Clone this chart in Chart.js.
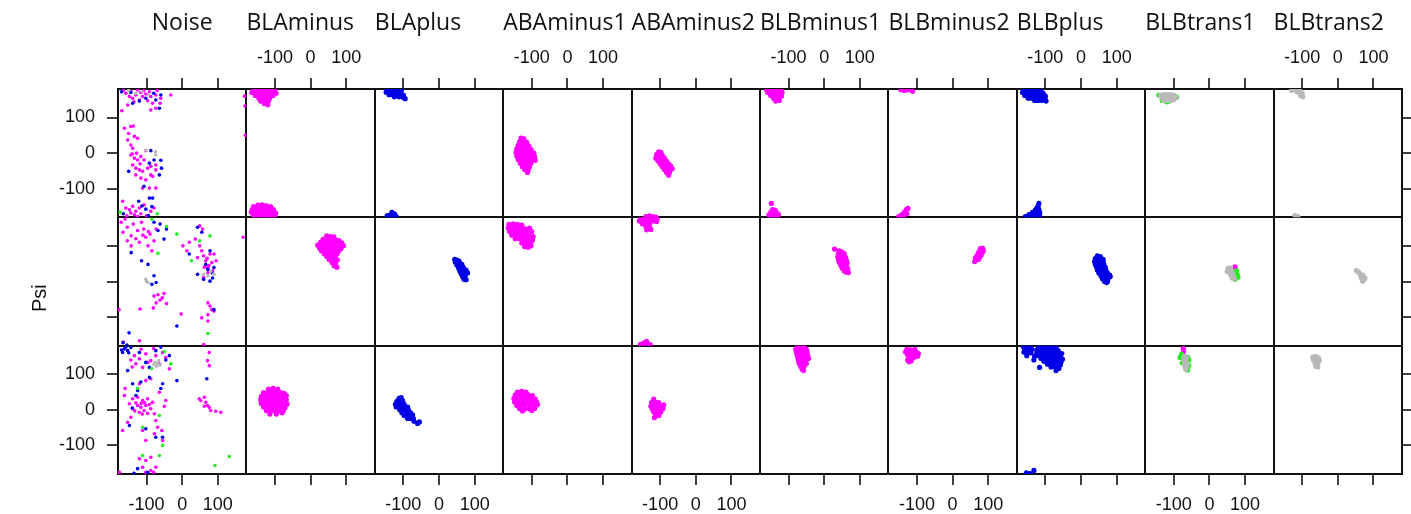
<!DOCTYPE html>
<html>
<head>
<meta charset="utf-8">
<script src="https://cdn.jsdelivr.net/npm/chart.js@4.4.1/dist/chart.umd.min.js"></script>
<style>
  html, body { margin: 0; background: #fff; }
  #wrap { width: 1411px; height: 514px; }
</style>
</head>
<body>
<div id="wrap"><canvas id="chart" width="1411" height="514"></canvas></div>
<script>
// panel names, one per column
const columns = ['Noise', 'BLAminus', 'BLAplus', 'ABAminus1', 'ABAminus2', 'BLBminus1', 'BLBminus2', 'BLBplus', 'BLBtrans1', 'BLBtrans2']
const rowCount = 3
const tickValues = [-180, -100, 0, 100, 180]
// point groups: M magenta, B blue, G green, K grey
const groupKeys = ['K', 'G', 'B', 'M']

// each point: [row, group, phi, psi]
const noisePts = [
  // row 0
  [0,'M',-158,168],[0,'M',-144,173],[0,'M',-130,163],[0,'M',-116,170],[0,'M',-102,166],[0,'M',-88,159],[0,'M',-74,163],[0,'M',-60,154],
  [0,'M',-139,154],[0,'M',-120,149],[0,'M',-97,147],[0,'M',-83,140],[0,'M',-88,121],[0,'M',-74,126],[0,'M',-153,135],[0,'M',-169,119],
  [0,'M',-32,163],[0,'M',-111,159],[0,'M',-125,177],[0,'M',-148,159],[0,'M',-165,176],[0,'M',-108,175],[0,'M',-92,172],[0,'M',-70,176],
  [0,'M',-135,144],[0,'M',-62,140],[0,'M',175,160],[0,'M',176,132],[0,'M',177,50],
  [0,'B',-139,140],[0,'B',-120,146],[0,'B',-74,149],[0,'B',-64,126],[0,'B',-60,163],[0,'B',-102,154],[0,'B',-144,170],[0,'B',-170,172],[0,'B',-80,168],
  [0,'K',-130,168],[0,'K',-112,172],[0,'K',-150,176],[0,'K',-95,164],
  [0,'M',-162,70],[0,'M',-144,75],[0,'M',-137,76],[0,'M',-153,37],[0,'M',-144,23],[0,'M',-134,47],[0,'M',-125,42],[0,'M',-139,14],
  [0,'M',-144,-5],[0,'M',-134,-14],[0,'M',-125,-19],[0,'M',-116,-9],[0,'M',-107,-19],[0,'M',-139,-33],[0,'M',-130,-42],[0,'M',-120,-47],
  [0,'M',-111,-51],[0,'M',-97,-42],[0,'M',-88,-37],[0,'M',-130,-61],[0,'M',-116,-70],[0,'M',-102,-75],[0,'M',-83,-65],[0,'M',-74,-47],
  [0,'M',-74,-98],[0,'M',-111,-98],[0,'M',-92,-98],[0,'M',-102,7],[0,'M',-74,-33],[0,'M',-88,-61],[0,'M',-140,-2],[0,'M',-128,0],
  [0,'M',-118,-30],[0,'M',-150,55],
  [0,'B',-88,7],[0,'B',-92,-28],[0,'B',-58,-42],[0,'B',-64,-61],[0,'B',-150,-51],[0,'B',-107,-93],[0,'B',-92,-126],[0,'B',-83,-126],[0,'B',-79,-19],[0,'B',-60,-20],
  [0,'K',-74,-5],[0,'K',-75,4],[0,'K',-102,8],
  [0,'M',-167,-135],[0,'M',-158,-154],[0,'M',-148,-159],[0,'M',-139,-149],[0,'M',-130,-163],[0,'M',-144,-168],[0,'M',-120,-154],[0,'M',-107,-145],
  [0,'M',-88,-163],[0,'M',-134,-173],[0,'M',-116,-170],[0,'M',-79,-154],[0,'M',-155,-176],[0,'M',-100,-176],[0,'M',-125,-178],
  [0,'B',-122,-135],[0,'B',-102,-157],[0,'B',-85,-150],[0,'B',-165,-170],[0,'B',-113,-148],[0,'B',-95,-175],
  [0,'G',-174,-166],[0,'G',-70,-170],
  // row 1
  [1,'M',-171,166],[1,'M',-154,152],[1,'M',-137,161],[1,'M',-166,138],[1,'M',-143,128],[1,'M',-125,143],[1,'M',-108,147],[1,'M',-102,124],
  [1,'M',-90,133],[1,'M',-79,114],[1,'M',-120,110],[1,'M',-143,100],[1,'M',-154,114],[1,'M',-73,147],[1,'M',-96,100],[1,'M',-85,86],
  [1,'M',-114,166],[1,'M',-130,120],[1,'M',-160,175],[1,'M',-110,130],[1,'M',-95,140],
  [1,'B',-79,166],[1,'B',-62,161],[1,'B',-51,119],[1,'B',-68,143],[1,'B',-44,147],[1,'B',-143,81],[1,'B',-114,58],[1,'B',-96,48],
  [1,'B',-79,16],[1,'B',-73,-3],[1,'B',-85,-8],
  [1,'G',-44,154],[1,'G',-85,175],[1,'G',-68,79],[1,'G',-15,133],
  [1,'K',-102,6],[1,'K',-96,-3],[1,'K',-100,0],
  [1,'M',2,100],[1,'M',20,110],[1,'M',13,86],[1,'M',37,119],[1,'M',49,100],[1,'M',55,86],[1,'M',60,72],[1,'M',66,58],
  [1,'M',43,67],[1,'M',72,39],[1,'M',78,77],[1,'M',89,77],[1,'M',83,53],[1,'M',57,147],[1,'M',49,156],[1,'M',72,25],
  [1,'M',60,11],[1,'M',95,58],[1,'M',70,65],[1,'M',75,45],[1,'M',62,40],[1,'M',85,30],[1,'M',171,124],
  [1,'B',43,152],[1,'B',55,138],[1,'B',78,86],[1,'B',66,48],[1,'B',72,34],[1,'B',83,25],[1,'B',43,20],[1,'B',78,1],
  [1,'B',60,6],[1,'B',89,39],[1,'B',20,77],[1,'B',85,10],
  [1,'K',60,20],[1,'K',72,16],[1,'K',89,20],[1,'K',80,28],
  [1,'G',26,58],[1,'G',49,114],[1,'G',78,128],
  [1,'M',-79,-41],[1,'M',-68,-37],[1,'M',-56,-46],[1,'M',-51,-34],[1,'M',-73,-60],[1,'M',-62,-52],[1,'M',-44,-62],[1,'M',-81,-74],
  [1,'M',-118,-77],[1,'M',-177,-79],[1,'M',72,-60],[1,'M',78,-69],[1,'M',83,-79],[1,'M',72,-93],[1,'M',55,-102],[1,'M',89,-83],
  [1,'M',72,-111],[1,'M',-3,-91],[1,'M',60,-177],[1,'M',-120,-166],[1,'M',-165,-170],
  [1,'B',89,-79],[1,'B',-15,-125],[1,'B',-149,-144],[1,'B',-166,-172],[1,'B',-155,-178],
  [1,'G',72,-146],
  // row 2
  [2,'B',-162,171],[2,'B',-153,166],[2,'B',-167,161],[2,'B',-144,175],[2,'B',-158,176],[2,'B',-170,168],[2,'B',-150,160],
  [2,'M',-134,152],[2,'M',-120,143],[2,'M',-102,157],[2,'M',-88,138],[2,'M',-74,152],[2,'M',-55,161],[2,'M',-46,147],[2,'M',-130,129],
  [2,'M',-111,119],[2,'M',-97,133],[2,'M',-144,140],[2,'M',-64,129],[2,'M',-36,115],[2,'M',-115,170],[2,'M',-80,172],[2,'M',-140,120],
  [2,'B',-120,161],[2,'B',-102,133],[2,'B',-74,166],[2,'B',-36,152],[2,'B',-153,110],[2,'B',-92,119],[2,'B',-46,140],[2,'B',-60,176],
  [2,'K',-69,129],[2,'K',-76,133],[2,'K',-62,126],[2,'K',-72,122],[2,'K',-66,138],[2,'K',-80,127],
  [2,'G',-32,129],[2,'G',-50,163],[2,'G',-86,116],
  [2,'M',-139,31],[2,'M',-125,35],[2,'M',-111,26],[2,'M',-97,31],[2,'M',-83,21],[2,'M',-125,12],[2,'M',-116,7],[2,'M',-102,12],
  [2,'M',-88,3],[2,'M',-120,-7],[2,'M',-107,-2],[2,'M',-139,3],[2,'M',-148,17],[2,'M',-78,-11],[2,'M',-97,-10],[2,'M',-130,20],
  [2,'M',-115,18],[2,'M',-105,20],[2,'M',-92,15],[2,'M',-133,-3],[2,'M',-112,-12],
  [2,'M',-162,40],[2,'M',-153,-35],[2,'M',-144,-21],[2,'M',-74,-30],[2,'M',-69,-49],[2,'M',-57,-58],[2,'M',-78,-67],[2,'M',-55,-86],
  [2,'M',-102,-86],[2,'M',-111,-58],[2,'M',-46,26],[2,'M',-50,10],[2,'M',-64,49],[2,'M',-88,87],[2,'M',-102,82],[2,'M',-120,73],
  [2,'M',-167,-58],[2,'M',-160,60],
  [2,'B',-139,73],[2,'B',-116,78],[2,'B',-92,91],[2,'B',-55,73],[2,'B',-60,60],[2,'B',-140,5],[2,'B',-148,-44],[2,'B',-102,-53],
  [2,'B',-74,-77],[2,'B',-55,-77],[2,'B',-130,40],[2,'B',-125,54],[2,'B',-15,82],[2,'B',69,87],
  [2,'G',-125,60],[2,'G',-111,-49],[2,'G',-55,-100],[2,'G',-64,-16],
  [2,'M',-120,-137],[2,'M',-102,-142],[2,'M',-88,-133],[2,'M',-74,-161],[2,'M',-111,-161],[2,'M',-102,-175],[2,'M',-88,-170],[2,'M',-80,-175],[2,'M',-176,-175],
  [2,'B',-125,-165],[2,'B',-97,-175],[2,'B',-135,-178],
  [2,'G',-111,-128],[2,'G',-64,-128],[2,'G',132,-131],[2,'G',92,-156],
  [2,'M',52,26],[2,'M',62,35],[2,'M',66,21],[2,'M',71,12],[2,'M',76,7],[2,'M',62,10],[2,'M',80,-2],[2,'M',94,-4],
  [2,'M',108,-7],[2,'M',48,31],[2,'M',76,161],[2,'M',71,138],[2,'M',76,124]
]

const blaMinusPts = [
  [0,'M',-160,178],[0,'M',-150,178],[0,'M',-140,178],[0,'M',-130,178],[0,'M',-120,178],[0,'M',-110,178],[0,'M',-100,176],
  [0,'M',-165,170],[0,'M',-155,170],[0,'M',-145,170],[0,'M',-135,170],[0,'M',-125,170],[0,'M',-115,170],[0,'M',-105,170],[0,'M',-97,168],
  [0,'M',-155,162],[0,'M',-145,162],[0,'M',-135,162],[0,'M',-125,162],[0,'M',-115,162],[0,'M',-105,162],
  [0,'M',-145,154],[0,'M',-135,154],[0,'M',-125,154],[0,'M',-115,154],[0,'M',-140,146],[0,'M',-128,146],[0,'M',-118,146],[0,'M',-130,139],[0,'M',-120,136],
  [0,'M',-160,-150],[0,'M',-148,-146],[0,'M',-136,-145],[0,'M',-124,-147],[0,'M',-112,-150],
  [0,'M',-164,-158],[0,'M',-152,-156],[0,'M',-140,-155],[0,'M',-128,-155],[0,'M',-116,-156],[0,'M',-104,-158],
  [0,'M',-166,-166],[0,'M',-154,-165],[0,'M',-142,-164],[0,'M',-130,-164],[0,'M',-118,-165],[0,'M',-106,-166],[0,'M',-98,-168],
  [0,'M',-160,-174],[0,'M',-148,-174],[0,'M',-136,-173],[0,'M',-124,-174],[0,'M',-112,-174],[0,'M',-100,-176],
  [0,'M',-155,-179],[0,'M',-135,-179],[0,'M',-115,-179],
  [1,'M',45,128],[1,'M',55,126],[1,'M',65,125],[1,'M',35,118],[1,'M',47,118],[1,'M',58,118],[1,'M',70,117],[1,'M',80,115],
  [1,'M',28,110],[1,'M',40,110],[1,'M',52,110],[1,'M',64,110],[1,'M',76,108],[1,'M',88,108],
  [1,'M',20,102],[1,'M',32,102],[1,'M',44,102],[1,'M',56,102],[1,'M',68,102],[1,'M',80,100],[1,'M',92,100],
  [1,'M',25,94],[1,'M',37,94],[1,'M',49,94],[1,'M',61,94],[1,'M',73,94],[1,'M',85,92],
  [1,'M',30,86],[1,'M',42,86],[1,'M',54,86],[1,'M',66,86],[1,'M',78,85],[1,'M',38,78],[1,'M',50,78],[1,'M',62,78],[1,'M',74,77],
  [1,'M',45,70],[1,'M',57,70],[1,'M',69,69],[1,'M',52,62],[1,'M',64,61],[1,'M',75,60],[1,'M',60,53],[1,'M',70,50],[1,'M',66,44],[1,'M',74,40],
  [2,'M',-118,58],[2,'M',-105,60],[2,'M',-92,58],
  [2,'M',-132,48],[2,'M',-120,48],[2,'M',-108,48],[2,'M',-96,48],[2,'M',-84,48],[2,'M',-74,46],
  [2,'M',-138,38],[2,'M',-126,38],[2,'M',-114,38],[2,'M',-102,38],[2,'M',-90,38],[2,'M',-78,38],[2,'M',-68,40],
  [2,'M',-140,28],[2,'M',-128,28],[2,'M',-116,28],[2,'M',-104,28],[2,'M',-92,28],[2,'M',-80,28],[2,'M',-68,28],
  [2,'M',-138,18],[2,'M',-126,18],[2,'M',-114,18],[2,'M',-102,18],[2,'M',-90,18],[2,'M',-78,18],[2,'M',-66,16],
  [2,'M',-132,8],[2,'M',-120,8],[2,'M',-108,8],[2,'M',-96,8],[2,'M',-84,8],[2,'M',-72,6],
  [2,'M',-124,-2],[2,'M',-112,-3],[2,'M',-100,-2],[2,'M',-88,-4],[2,'M',-76,-2],[2,'M',-114,-12],[2,'M',-96,-12],[2,'M',-80,-8]
]

const blaPlusPts = [
  [0,'B',-145,178],[0,'B',-135,178],[0,'B',-125,178],[0,'B',-115,178],[0,'B',-105,177],
  [0,'B',-148,171],[0,'B',-138,171],[0,'B',-128,171],[0,'B',-118,171],[0,'B',-108,171],
  [0,'B',-140,164],[0,'B',-130,164],[0,'B',-120,164],[0,'B',-110,164],[0,'B',-100,163],[0,'B',-125,158],[0,'B',-112,158],[0,'B',-100,156],[0,'B',-95,153],
  [0,'B',-145,-175],[0,'B',-135,-172],[0,'B',-125,-170],[0,'B',-140,-178],[0,'B',-130,-178],[0,'B',-120,-177],[0,'B',-132,-166],
  [1,'B',44,62],[1,'B',50,60],[1,'B',56,57],[1,'B',46,54],[1,'B',52,52],[1,'B',58,50],[1,'B',64,48],[1,'B',50,46],[1,'B',56,44],
  [1,'B',62,42],[1,'B',68,40],[1,'B',55,38],[1,'B',61,36],[1,'B',67,34],[1,'B',58,30],[1,'B',64,28],[1,'B',70,26],[1,'B',76,32],
  [1,'B',62,22],[1,'B',68,20],[1,'B',74,18],[1,'B',66,14],[1,'B',72,12],[1,'B',70,6],[1,'B',76,5],[1,'B',80,24],
  [2,'B',-112,32],[2,'B',-106,34],[2,'B',-118,24],[2,'B',-110,24],[2,'B',-102,26],[2,'B',-122,16],[2,'B',-114,16],[2,'B',-106,16],
  [2,'B',-98,16],[2,'B',-120,8],[2,'B',-112,8],[2,'B',-104,8],[2,'B',-96,8],[2,'B',-88,8],[2,'B',-110,0],[2,'B',-102,0],
  [2,'B',-94,0],[2,'B',-86,0],[2,'B',-104,-8],[2,'B',-96,-8],[2,'B',-88,-8],[2,'B',-80,-8],[2,'B',-98,-16],[2,'B',-90,-16],
  [2,'B',-82,-16],[2,'B',-74,-14],[2,'B',-88,-24],[2,'B',-80,-24],[2,'B',-72,-24],[2,'B',-70,-32],[2,'B',-60,-38],[2,'B',-55,-34]
]

const abaMinus1Pts = [
  [0,'M',-130,42],[0,'M',-122,40],[0,'M',-134,32],[0,'M',-124,32],[0,'M',-114,30],[0,'M',-138,22],[0,'M',-128,22],[0,'M',-118,22],
  [0,'M',-108,20],[0,'M',-142,12],[0,'M',-132,12],[0,'M',-122,12],[0,'M',-112,12],[0,'M',-102,10],[0,'M',-144,2],[0,'M',-134,2],
  [0,'M',-124,2],[0,'M',-114,2],[0,'M',-104,2],[0,'M',-94,0],[0,'M',-142,-8],[0,'M',-132,-8],[0,'M',-122,-8],[0,'M',-112,-8],
  [0,'M',-102,-8],[0,'M',-92,-10],[0,'M',-138,-18],[0,'M',-128,-18],[0,'M',-118,-18],[0,'M',-108,-18],[0,'M',-98,-18],[0,'M',-90,-20],
  [0,'M',-132,-28],[0,'M',-122,-28],[0,'M',-112,-28],[0,'M',-102,-28],[0,'M',-126,-38],[0,'M',-116,-38],[0,'M',-106,-38],
  [0,'M',-120,-46],[0,'M',-110,-48],[0,'M',-112,-54],
  [1,'M',-164,160],[1,'M',-152,162],[1,'M',-140,160],[1,'M',-128,158],[1,'M',-166,150],[1,'M',-154,150],[1,'M',-142,150],[1,'M',-130,150],
  [1,'M',-118,148],[1,'M',-106,150],[1,'M',-162,140],[1,'M',-150,140],[1,'M',-138,140],[1,'M',-126,140],[1,'M',-114,138],[1,'M',-100,140],
  [1,'M',-156,130],[1,'M',-144,130],[1,'M',-132,130],[1,'M',-120,128],[1,'M',-108,128],[1,'M',-96,126],[1,'M',-146,120],[1,'M',-134,120],
  [1,'M',-122,118],[1,'M',-110,118],[1,'M',-98,116],[1,'M',-128,108],[1,'M',-116,108],[1,'M',-104,106],[1,'M',-120,98],[1,'M',-110,96],[1,'M',-102,100],
  [2,'M',-140,50],[2,'M',-128,52],[2,'M',-116,50],[2,'M',-146,42],[2,'M',-134,42],[2,'M',-122,42],[2,'M',-110,42],[2,'M',-98,40],
  [2,'M',-150,32],[2,'M',-138,32],[2,'M',-126,32],[2,'M',-114,32],[2,'M',-102,32],[2,'M',-90,30],[2,'M',-148,22],[2,'M',-136,22],
  [2,'M',-124,22],[2,'M',-112,22],[2,'M',-100,22],[2,'M',-86,22],[2,'M',-142,12],[2,'M',-130,12],[2,'M',-118,12],[2,'M',-106,12],
  [2,'M',-94,12],[2,'M',-84,14],[2,'M',-134,3],[2,'M',-120,2],[2,'M',-106,2],[2,'M',-92,4],[2,'M',-126,-3],[2,'M',-100,-2]
]

const abaMinus2Pts = [
  [0,'M',-104,4],[0,'M',-98,2],[0,'M',-110,-4],[0,'M',-102,-6],[0,'M',-94,-6],[0,'M',-112,-14],[0,'M',-104,-14],[0,'M',-96,-14],
  [0,'M',-88,-14],[0,'M',-106,-22],[0,'M',-98,-22],[0,'M',-90,-22],[0,'M',-82,-22],[0,'M',-100,-30],[0,'M',-92,-30],[0,'M',-84,-30],
  [0,'M',-76,-30],[0,'M',-94,-38],[0,'M',-86,-38],[0,'M',-78,-38],[0,'M',-70,-36],[0,'M',-88,-46],[0,'M',-80,-46],[0,'M',-72,-46],
  [0,'M',-66,-44],[0,'M',-82,-54],[0,'M',-74,-54],[0,'M',-76,-62],
  [0,'M',-140,-178],[0,'M',-130,-176],[0,'M',-120,-178],[0,'M',-112,-179],
  [1,'M',-155,178],[1,'M',-145,178],[1,'M',-135,178],[1,'M',-125,178],[1,'M',-115,178],[1,'M',-108,177],[1,'M',-158,170],[1,'M',-148,170],
  [1,'M',-138,170],[1,'M',-128,170],[1,'M',-118,170],[1,'M',-110,168],[1,'M',-150,162],[1,'M',-140,162],[1,'M',-130,162],
  [1,'M',-140,154],[1,'M',-130,152],[1,'M',-138,145],[1,'M',-126,146],
  [1,'M',-155,-176],[1,'M',-145,-172],[1,'M',-138,-168],[1,'M',-150,-179],[1,'M',-135,-179],[1,'M',-128,-177],
  [2,'M',-118,30],[2,'M',-124,20],[2,'M',-114,22],[2,'M',-104,20],[2,'M',-126,10],[2,'M',-116,12],[2,'M',-106,12],[2,'M',-96,10],
  [2,'M',-122,2],[2,'M',-112,2],[2,'M',-102,2],[2,'M',-92,4],[2,'M',-118,-6],[2,'M',-108,-6],[2,'M',-98,-6],[2,'M',-112,-14],
  [2,'M',-104,-16],[2,'M',-116,-22],[2,'M',-90,14]
]

const blbMinus1Pts = [
  [0,'M',-162,178],[0,'M',-152,178],[0,'M',-142,178],[0,'M',-132,178],[0,'M',-122,177],[0,'M',-158,170],[0,'M',-148,170],[0,'M',-138,170],
  [0,'M',-128,170],[0,'M',-118,170],[0,'M',-150,162],[0,'M',-140,162],[0,'M',-130,162],[0,'M',-120,160],[0,'M',-142,154],[0,'M',-132,152],
  [0,'M',-136,146],[0,'M',-126,148],
  [0,'M',-148,-141],[0,'M',-145,-158],[0,'M',-138,-160],[0,'M',-150,-166],[0,'M',-142,-166],[0,'M',-134,-166],[0,'M',-155,-173],
  [0,'M',-146,-173],[0,'M',-138,-173],[0,'M',-128,-172],[0,'M',-150,-179],[0,'M',-140,-179],[0,'M',-130,-179],
  [1,'M',29,91],[1,'M',42,86],[1,'M',48,84],[1,'M',40,78],[1,'M',48,78],[1,'M',56,78],[1,'M',38,70],[1,'M',46,70],[1,'M',54,70],
  [1,'M',60,68],[1,'M',40,62],[1,'M',48,62],[1,'M',56,62],[1,'M',62,60],[1,'M',42,54],[1,'M',50,54],[1,'M',58,54],[1,'M',64,52],
  [1,'M',46,46],[1,'M',54,46],[1,'M',62,46],[1,'M',50,38],[1,'M',58,38],[1,'M',66,36],[1,'M',56,30],[1,'M',62,26],[1,'M',68,25],
  [2,'M',-76,178],[2,'M',-66,178],[2,'M',-56,178],[2,'M',-80,170],[2,'M',-70,170],[2,'M',-60,170],[2,'M',-50,170],[2,'M',-78,162],
  [2,'M',-68,162],[2,'M',-58,162],[2,'M',-48,162],[2,'M',-76,154],[2,'M',-66,154],[2,'M',-56,154],[2,'M',-46,152],[2,'M',-74,146],
  [2,'M',-64,146],[2,'M',-54,146],[2,'M',-44,144],[2,'M',-72,138],[2,'M',-62,138],[2,'M',-52,138],[2,'M',-70,130],[2,'M',-60,130],
  [2,'M',-50,130],[2,'M',-66,122],[2,'M',-56,122],[2,'M',-62,114],[2,'M',-58,110]
]

const blbMinus2Pts = [
  [0,'M',-145,178],[0,'M',-135,176],[0,'M',-125,178],[0,'M',-112,174],
  [0,'M',-151,-178],[0,'M',-142,-172],[0,'M',-135,-165],[0,'M',-130,-158],[0,'M',-145,-176],[0,'M',-125,-155],[0,'M',-138,-179],[0,'M',-128,-170],
  [1,'M',84,94],[1,'M',78,92],[1,'M',86,88],[1,'M',80,86],[1,'M',74,84],[1,'M',84,82],[1,'M',78,80],[1,'M',72,78],[1,'M',80,74],
  [1,'M',74,72],[1,'M',68,72],[1,'M',76,68],[1,'M',70,66],[1,'M',64,66],[1,'M',72,62],[1,'M',66,60],[1,'M',62,56],
  [2,'M',-128,170],[2,'M',-118,168],[2,'M',-106,170],[2,'M',-132,162],[2,'M',-122,162],[2,'M',-112,162],[2,'M',-102,162],[2,'M',-96,158],
  [2,'M',-126,154],[2,'M',-116,154],[2,'M',-106,154],[2,'M',-98,150],[2,'M',-120,146],[2,'M',-110,146],[2,'M',-126,140],[2,'M',-116,138],[2,'M',-122,135]
]

const blbPlusPts = [
  [0,'B',-162,178],[0,'B',-152,178],[0,'B',-142,178],[0,'B',-132,178],[0,'B',-122,178],[0,'B',-112,177],[0,'B',-164,170],[0,'B',-154,170],
  [0,'B',-144,170],[0,'B',-134,170],[0,'B',-124,170],[0,'B',-114,170],[0,'B',-106,168],[0,'B',-158,162],[0,'B',-148,162],[0,'B',-138,162],
  [0,'B',-128,162],[0,'B',-118,162],[0,'B',-108,162],[0,'B',-100,160],[0,'B',-148,154],[0,'B',-138,154],[0,'B',-128,154],[0,'B',-118,154],
  [0,'B',-108,154],[0,'B',-130,148],[0,'B',-120,148],[0,'B',-110,148],[0,'B',-98,146],[0,'B',-100,150],
  [0,'B',-118,-141],[0,'B',-120,-148],[0,'B',-124,-154],[0,'B',-128,-160],[0,'B',-118,-158],[0,'B',-136,-166],[0,'B',-126,-166],
  [0,'B',-116,-166],[0,'B',-146,-172],[0,'B',-136,-172],[0,'B',-126,-172],[0,'B',-116,-172],[0,'B',-156,-178],[0,'B',-146,-178],
  [0,'B',-136,-178],[0,'B',-126,-178],[0,'B',-116,-178],
  [1,'B',46,72],[1,'B',54,70],[1,'B',40,64],[1,'B',48,64],[1,'B',56,64],[1,'B',62,62],[1,'B',38,56],[1,'B',46,56],[1,'B',54,56],
  [1,'B',62,56],[1,'B',40,48],[1,'B',48,48],[1,'B',56,48],[1,'B',64,48],[1,'B',44,40],[1,'B',52,40],[1,'B',60,40],[1,'B',68,40],
  [1,'B',46,32],[1,'B',54,32],[1,'B',62,32],[1,'B',70,32],[1,'B',50,24],[1,'B',58,24],[1,'B',66,24],[1,'B',74,24],[1,'B',56,16],
  [1,'B',64,16],[1,'B',72,16],[1,'B',80,18],[1,'B',60,8],[1,'B',68,8],[1,'B',76,8],[1,'B',66,0],[1,'B',74,0],[1,'B',72,-3],[1,'B',82,14],
  [2,'B',-162,178],[2,'B',-152,178],[2,'B',-142,178],[2,'B',-158,170],[2,'B',-148,170],[2,'B',-138,170],[2,'B',-160,162],[2,'B',-150,162],
  [2,'B',-140,160],[2,'B',-152,152],
  [2,'B',-118,176],[2,'B',-106,178],[2,'B',-94,178],[2,'B',-82,178],[2,'B',-70,176],[2,'B',-124,168],[2,'B',-112,168],[2,'B',-100,168],
  [2,'B',-88,168],[2,'B',-76,168],[2,'B',-64,166],[2,'B',-124,160],[2,'B',-112,160],[2,'B',-100,160],[2,'B',-88,160],[2,'B',-76,160],
  [2,'B',-64,160],[2,'B',-54,158],[2,'B',-118,152],[2,'B',-106,152],[2,'B',-94,152],[2,'B',-82,152],[2,'B',-70,152],[2,'B',-58,150],
  [2,'B',-112,144],[2,'B',-100,144],[2,'B',-88,144],[2,'B',-76,144],[2,'B',-64,144],[2,'B',-52,142],[2,'B',-104,136],[2,'B',-92,136],
  [2,'B',-80,136],[2,'B',-68,136],[2,'B',-56,134],[2,'B',-94,128],[2,'B',-82,128],[2,'B',-70,128],[2,'B',-58,126],[2,'B',-84,120],
  [2,'B',-72,120],[2,'B',-62,116],[2,'B',-70,110],[2,'B',-116,119],[2,'B',-130,150],[2,'B',-132,140],
  [2,'B',-153,-177],[2,'B',-132,-170],[2,'B',-143,-179]
]

const blbTrans1Pts = [
  [0,'K',-138,162],[0,'K',-128,164],[0,'K',-118,164],[0,'K',-108,164],[0,'K',-98,162],[0,'K',-134,156],[0,'K',-124,156],[0,'K',-114,156],
  [0,'K',-104,156],[0,'K',-94,156],[0,'K',-128,148],[0,'K',-118,148],[0,'K',-108,148],[0,'K',-100,150],
  [0,'G',-142,163],[0,'G',-120,144],[0,'G',-92,157],[0,'G',-132,148],[0,'G',-112,146],
  [1,'K',52,36],[1,'K',58,38],[1,'K',56,30],[1,'K',62,30],[1,'K',50,28],[1,'K',58,24],[1,'K',64,24],[1,'K',60,18],[1,'K',66,16],[1,'K',64,10],[1,'K',70,8],
  [1,'G',78,20],[1,'G',72,6],[1,'G',76,30],[1,'G',80,12],[1,'G',74,14],
  [1,'M',72,41],
  [2,'K',-70,150],[2,'K',-64,146],[2,'K',-72,140],[2,'K',-66,136],[2,'K',-70,128],[2,'K',-62,126],[2,'K',-68,120],[2,'K',-66,114],
  [2,'G',-82,147],[2,'G',-61,147],[2,'G',-78,156],[2,'G',-58,140],[2,'G',-61,112],[2,'G',-76,132],[2,'G',-58,125],
  [2,'M',-73,172],[2,'M',-73,163]
]

const blbTrans2Pts = [
  [0,'K',-130,176],[0,'K',-122,178],[0,'K',-114,172],[0,'K',-106,174],[0,'K',-100,168],[0,'K',-104,162],[0,'K',-98,158],[0,'K',-112,178],
  [0,'K',-120,-175],[0,'K',-112,-178],
  [1,'K',52,31],[1,'K',56,28],[1,'K',60,24],[1,'K',64,18],[1,'K',70,18],[1,'K',66,12],[1,'K',72,12],[1,'K',68,6],[1,'K',74,6],[1,'K',70,1],[1,'K',76,10],
  [2,'K',-70,148],[2,'K',-62,150],[2,'K',-54,146],[2,'K',-68,140],[2,'K',-60,140],[2,'K',-52,138],[2,'K',-64,132],[2,'K',-56,130],[2,'K',-62,122],[2,'K',-56,120]
]

const columnPoints = [noisePts, blaMinusPts, blaPlusPts, abaMinus1Pts, abaMinus2Pts, blbMinus1Pts, blbMinus2Pts, blbPlusPts, blbTrans1Pts, blbTrans2Pts]

// styling
const groupColors = { M: '#ff00ff', B: '#0000e6', G: '#22ee22', K: '#b9b9b9' }
const lineColor = '#111'
const clear = 'rgba(0,0,0,0)'
const isEdge = (v) => Math.abs(v) === 180

// sizes of the margins round the grid of panels
const marginTop = 89
const marginBottom = 40
const marginLeft = 118
const marginRight = 7

const axis = (position, index, showLabels, title) => {
  const horizontal = position === 'top' || position === 'bottom'
  const reversed = position === 'top' || position === 'left' // chart.js lays these out in reverse
  const count = horizontal ? columns.length : rowCount
  return {
    type: 'linear',
    axis: horizontal ? 'x' : 'y',
    position: position,
    stack: position,
    stackWeight: 1,
    weight: reversed ? count - index : index,
    min: -180,
    max: 180,
    afterBuildTicks: (s) => { s.ticks = tickValues.map((v) => ({ value: v })) },
    afterFit: (s) => {
      if (position === 'top') s.height = marginTop
      if (position === 'bottom') s.height = marginBottom
      if (position === 'left') s.width = marginLeft
      if (position === 'right') s.width = marginRight
    },
    grid: {
      drawOnChartArea: position === 'bottom' || position === 'left',
      color: (c) => (c.tick && isEdge(c.tick.value) ? lineColor : clear),
      lineWidth: 2,
      tickColor: (c) => (c.tick && isEdge(c.tick.value) ? clear : lineColor),
      tickWidth: 1.6,
      tickLength: 11,
    },
    border: { display: true, color: lineColor, width: 2 },
    ticks: {
      display: showLabels,
      autoSkip: false,
      maxRotation: 0,
      padding: horizontal ? 9 : 12,
      color: '#111',
      font: { family: 'Liberation Sans', size: 18 },
      callback: (v) => (isEdge(v) ? '' : v),
    },
    title: title
      ? {
          display: true,
          text: title.text,
          align: title.align,
          color: '#111',
          font: title.font,
          padding: { top: title.pad, bottom: 0 },
        }
      : { display: false },
  }
}

const scales = {}
const headerFont = { family: 'Open Sans', size: 23 }
columns.forEach((name, c) => {
  scales['xt' + c] = axis('top', c, c % 2 === 1, { text: name, align: c === 0 ? 'center' : 'start', font: headerFont, pad: 10 })
})
columns.forEach((name, c) => {
  scales['xb' + c] = axis('bottom', c, c % 2 === 0, null)
})
for (let r = 0; r < rowCount; r++) {
  // trailing spaces push the centred label a little below the middle row's centre, as in the original
  const psiTitle = { text: 'Psi      ', align: 'center', font: { family: 'Liberation Sans', size: 20 }, pad: 28 }
  scales['yl' + r] = axis('left', r, r !== 1, r === 1 ? psiTitle : null)
}
for (let r = 0; r < rowCount; r++) {
  scales['yr' + r] = axis('right', r, false, null)
}

const datasets = []
columnPoints.forEach((pts, c) => {
  for (let r = 0; r < rowCount; r++) {
    groupKeys.forEach((g) => {
      const data = pts.filter((p) => p[0] === r && p[1] === g).map((p) => ({ x: p[2], y: p[3] }))
      if (!data.length) return
      datasets.push({
        label: columns[c] + ' ' + r + ' ' + g,
        data: data,
        xAxisID: 'xb' + c,
        yAxisID: 'yl' + r,
        backgroundColor: groupColors[g],
        borderWidth: 0,
        pointRadius: c === 0 ? 1.8 : 2.6,
      })
    })
  }
})

new Chart(document.getElementById('chart'), {
  type: 'scatter',
  data: { datasets: datasets },
  options: {
    responsive: false,
    animation: false,
    events: [],
    layout: { padding: 0 },
    plugins: { legend: { display: false }, tooltip: { enabled: false } },
    scales: scales,
  },
})
</script>
</body>
</html>
